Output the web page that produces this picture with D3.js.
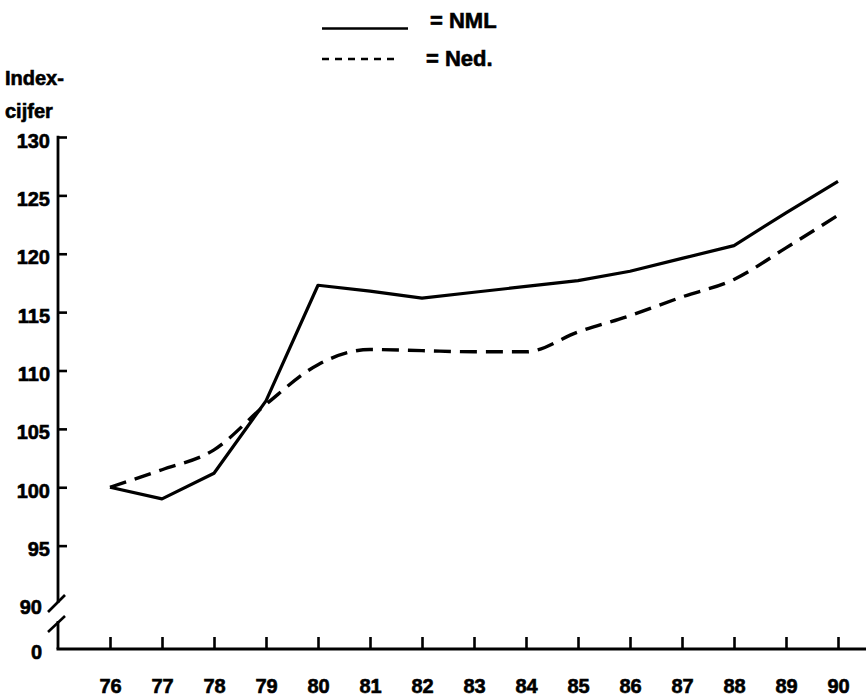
<!DOCTYPE html>
<html>
<head>
<meta charset="utf-8">
<script src="https://cdn.jsdelivr.net/npm/d3@7"></script>
<style>
  html, body { margin: 0; padding: 0; background: #fff; }
  svg { display: block; }
  text { font-family: "Liberation Sans", Arial, Helvetica, sans-serif; font-weight: bold; fill: #000; stroke: #000; stroke-width: 0.6px; }
</style>
</head>
<body>
<svg id="chart" width="868" height="697"></svg>
<script>
// ---- data ----
const years = ["76","77","78","79","80","81","82","83","84","85","86","87","88","89","90"];
const nml   = [100, 99.0, 101.2, 107.4, 117.3, 116.8, 116.2, 116.7, 117.2, 117.7, 118.5, 119.6, 120.7, 123.5, 126.2];
const ned   = [100, 101.5, 103.2, 107.1, 110.5, 111.8, 111.7, 111.6, 111.6, 113.3, 114.7, 116.3, 117.8, 120.5, 123.3];
const yTickValues = [95, 100, 105, 110, 115, 120, 125, 130];
const yBreakLabels = [90, 0];
const seriesNames = ["NML", "Ned."];
const yTitle = ["Index-", "cijfer"];

// ---- layout ----
const svg = d3.select("#chart");
const axisX = 58, axisY = 649;

const x = d3.scalePoint().domain(years).range([110, 838]);
// broken axis: 0 at the x-axis, 90..130 on the main part
const y = d3.scaleLinear().domain([0, 90, 130]).range([axisY, 604, 137]);

// y-axis title
svg.append("text").attr("x", 5).attr("y", 85).attr("font-size", 20).text(yTitle[0]);
svg.append("text").attr("x", 5).attr("y", 118).attr("font-size", 20).text(yTitle[1]);

// x axis
const gx = svg.append("g").attr("transform", `translate(0,${axisY})`)
  .call(d3.axisBottom(x).tickSize(-12).tickPadding(30));
gx.select(".domain").remove();
gx.selectAll(".tick line").attr("stroke", "#000").attr("stroke-width", 2.6);
gx.selectAll(".tick text").attr("font-size", 20).attr("font-family", null).attr("fill", "#000");
svg.append("line").attr("x1", axisX - 1.5).attr("x2", 866).attr("y1", axisY).attr("y2", axisY)
  .attr("stroke", "#000").attr("stroke-width", 3);

// y axis (upper part)
const gy = svg.append("g").attr("transform", `translate(${axisX},0)`)
  .call(d3.axisLeft(y).tickValues(yTickValues).tickSize(-9).tickPadding(8));
gy.select(".domain").remove();
gy.selectAll(".tick line").attr("stroke", "#000").attr("stroke-width", 2.6);
gy.selectAll(".tick text").attr("font-size", 20).attr("font-family", null).attr("dy", "0.5em").attr("fill", "#000");

svg.append("line").attr("x1", axisX).attr("x2", axisX).attr("y1", y(130) - 1.3).attr("y2", 603)
  .attr("stroke", "#000").attr("stroke-width", 2.8);
svg.append("line").attr("x1", axisX).attr("x2", axisX).attr("y1", 621).attr("y2", axisY)
  .attr("stroke", "#000").attr("stroke-width", 2.8);
// break marks
svg.append("line").attr("x1", 48).attr("y1", 612).attr("x2", 65).attr("y2", 595)
  .attr("stroke", "#000").attr("stroke-width", 2.6);
svg.append("line").attr("x1", 48).attr("y1", 632).attr("x2", 65).attr("y2", 616)
  .attr("stroke", "#000").attr("stroke-width", 2.6);
// labels at the break
svg.selectAll("text.brk").data(yBreakLabels).join("text").attr("class", "brk")
  .attr("x", 42).attr("y", d => y(d)).attr("dy", "0.5em")
  .attr("text-anchor", "end").attr("font-size", 20).text(d => d);

// lines
const lineLinear = d3.line().x((d, i) => x(years[i])).y(d => y(d));
const lineSmooth = d3.line().x((d, i) => x(years[i])).y(d => y(d)).curve(d3.curveMonotoneX);

svg.append("path").datum(ned).attr("d", lineSmooth)
  .attr("fill", "none").attr("stroke", "#000").attr("stroke-width", 3.4)
  .attr("stroke-dasharray", "17,9");
svg.append("path").datum(nml).attr("d", lineLinear)
  .attr("fill", "none").attr("stroke", "#000").attr("stroke-width", 3.2)
  .attr("stroke-linejoin", "round");

// legend
svg.append("line").attr("x1", 322).attr("x2", 408).attr("y1", 28.5).attr("y2", 28.5)
  .attr("stroke", "#000").attr("stroke-width", 2.6);
svg.append("line").attr("x1", 322).attr("x2", 400).attr("y1", 59).attr("y2", 59)
  .attr("stroke", "#000").attr("stroke-width", 2.4).attr("stroke-dasharray", "7,6");
svg.append("text").attr("x", 430).attr("y", 28).attr("font-size", 22).text("= " + seriesNames[0]);
svg.append("text").attr("x", 426).attr("y", 66).attr("font-size", 22).text("= " + seriesNames[1]);
</script>
</body>
</html>
